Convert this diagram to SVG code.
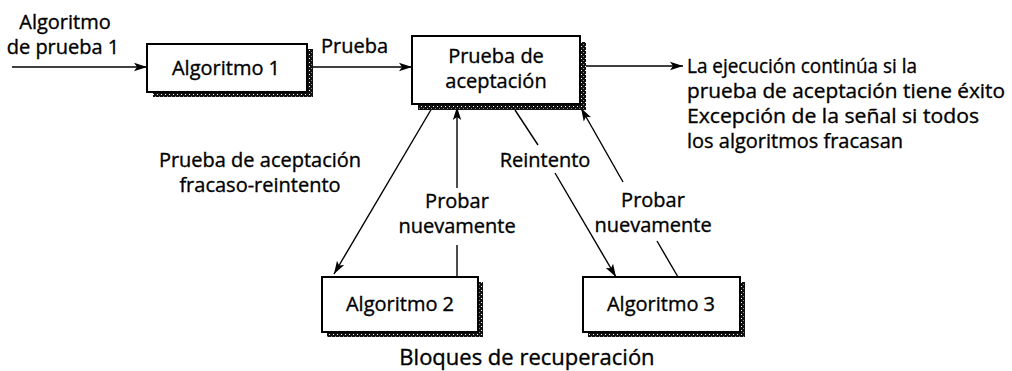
<svg xmlns="http://www.w3.org/2000/svg" width="1012" height="371" viewBox="0 0 1012 371">
<style>
text{font-family:"Open Sans","Noto Sans","Liberation Sans",sans-serif;font-size:20px;fill:#000;stroke:#000;stroke-width:0.35}
.c{text-anchor:middle}
.box{fill:#fff;stroke:#000;stroke-width:2}
.sh{fill:url(#grain)}
.ln{fill:none;stroke:#000;stroke-width:1.4}
.ar{marker-end:url(#ah)}
</style>
<defs>
<pattern id="grain" width="4" height="4" patternUnits="userSpaceOnUse">
<rect width="4" height="4" fill="#111"/>
<rect x="1" y="2" width="1" height="1" fill="#fff"/>
<rect x="3" y="0" width="1" height="1" fill="#888"/>
</pattern>
<marker id="ah" markerUnits="userSpaceOnUse" markerWidth="14" markerHeight="10" refX="13" refY="5" orient="auto">
<path d="M0,0.8 L13,5 L0,9.2 L3,5 Z" fill="#000"/>
</marker>
</defs>
<rect width="1012" height="371" fill="#fff"/>

<g id="connectors">
<line class="ln ar" x1="12" y1="67" x2="147" y2="67"/>
<line class="ln ar" x1="312" y1="67" x2="412" y2="67"/>
<line class="ln ar" x1="585" y1="66" x2="683" y2="66"/>
<line class="ln ar" x1="432" y1="108" x2="334" y2="274"/>
<line class="ln" x1="457" y1="277" x2="457" y2="245"/>
<line class="ln ar" x1="457" y1="188" x2="457" y2="107"/>
<line class="ln" x1="515" y1="110" x2="538" y2="145"/>
<line class="ln ar" x1="555" y1="173" x2="616" y2="277"/>
<line class="ln" x1="678" y1="277" x2="657" y2="241"/>
<line class="ln ar" x1="623" y1="182" x2="581" y2="108"/>
</g>

<g id="label-input">
<text class="c" x="65" y="29">Algoritmo</text>
<text class="c" x="63" y="54">de prueba 1</text>
</g>
<g id="label-prueba"><text x="321" y="53">Prueba</text></g>
<g id="label-result">
<text x="687" y="73" textLength="230" lengthAdjust="spacingAndGlyphs">La ejecución continúa si la</text>
<text x="687" y="98" textLength="318" lengthAdjust="spacingAndGlyphs">prueba de aceptación tiene éxito</text>
<text x="687" y="123" textLength="292" lengthAdjust="spacingAndGlyphs">Excepción de la señal si todos</text>
<text x="687" y="148" textLength="216" lengthAdjust="spacingAndGlyphs">los algoritmos fracasan</text>
</g>
<g id="label-fail">
<text class="c" x="260" y="167">Prueba de aceptación</text>
<text class="c" x="260" y="192">fracaso-reintento</text>
</g>
<g id="label-retry2">
<text class="c" x="457" y="208">Probar</text>
<text class="c" x="457" y="233">nuevamente</text>
</g>
<g id="label-reintento"><text class="c" x="545" y="167">Reintento</text></g>
<g id="label-retry3">
<text class="c" x="653" y="207">Probar</text>
<text class="c" x="653" y="232">nuevamente</text>
</g>
<g id="label-blocks"><text class="c" x="527" y="365" style="font-size:22px">Bloques de recuperación</text></g>

<g id="algoritmo1">
<rect class="sh" x="153" y="49" width="160" height="48"/>
<rect class="box" x="147" y="44" width="160" height="48"/>
<text class="c" x="226" y="75">Algoritmo 1</text>
</g>
<g id="prueba-aceptacion">
<rect class="sh" x="418" y="42" width="168" height="68"/>
<rect class="box" x="412" y="36" width="168" height="68"/>
<text class="c" x="496" y="63">Prueba de</text>
<text class="c" x="496" y="88">aceptación</text>
</g>
<g id="algoritmo2">
<rect class="sh" x="327" y="282" width="156" height="55"/>
<rect class="box" x="322" y="277" width="156" height="55"/>
<text class="c" x="400" y="311">Algoritmo 2</text>
</g>
<g id="algoritmo3">
<rect class="sh" x="588" y="282" width="157" height="55"/>
<rect class="box" x="583" y="277" width="157" height="55"/>
<text class="c" x="661" y="311">Algoritmo 3</text>
</g>
</svg>
